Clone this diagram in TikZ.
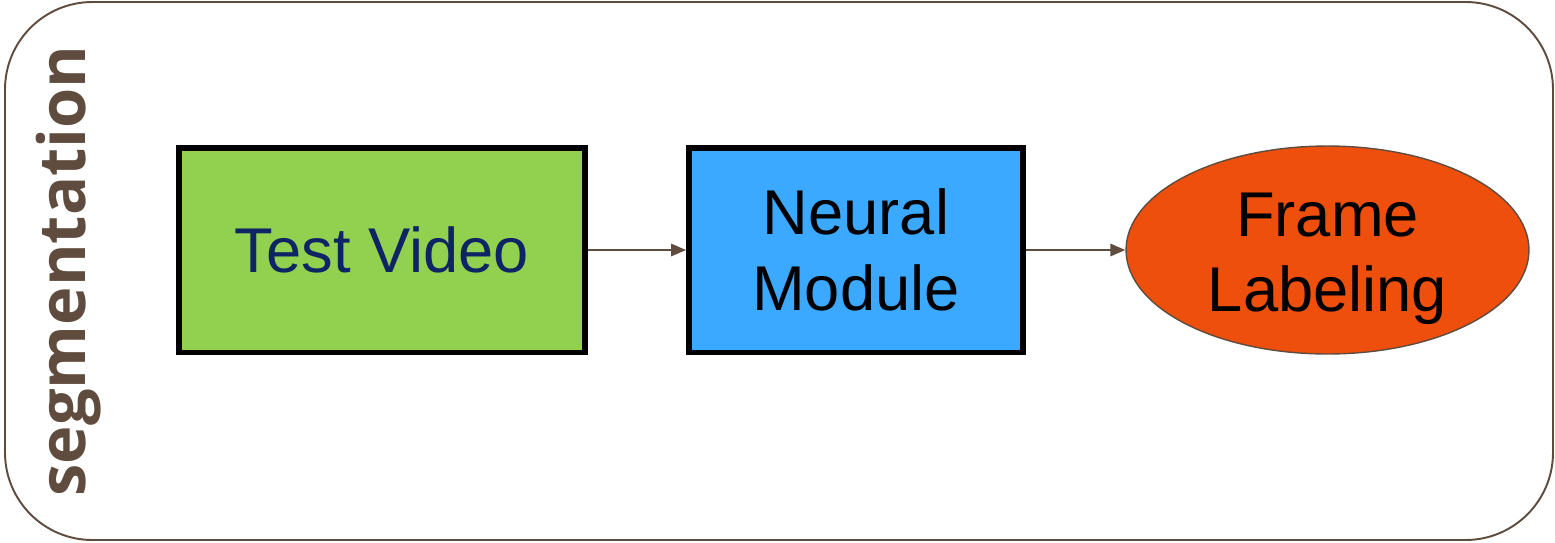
\documentclass[tikz,border=0pt]{standalone}
\usepackage{fontspec}
\setmainfont{Liberation Sans}
\newfontfamily\segfont{Open Sans}
\usetikzlibrary{shapes.geometric,arrows.meta}
\definecolor{framebrown}{HTML}{5F4C3E}
\definecolor{boxgreen}{HTML}{92D050}
\definecolor{boxblue}{HTML}{3BA9FF}
\definecolor{ellorange}{HTML}{EE4F0C}
\definecolor{navytext}{HTML}{0E2464}
\tikzset{
  procbox/.style={draw=black, line width=3.4pt, inner sep=0pt, align=center,
    font=\fontsize{36}{43}\selectfont},
  outbox/.style={ellipse, draw=framebrown, line width=0.8pt, fill=ellorange, inner sep=0pt},
  bigtext/.style={inner sep=0pt, align=center, font=\fontsize{36}{43}\selectfont},
  flow/.style={draw=framebrown, line width=1.2pt, -{Triangle[length=8.5pt,width=7pt]}},
  frame/.style={draw=framebrown, line width=1.1pt, rounded corners=1.75cm},
}
\begin{document}
\begin{tikzpicture}[x=0.02cm, y=-0.02cm]
\useasboundingbox (0,0) rectangle (1555,542);
\draw[frame] (5,2) rectangle (1553,540);
\node[rotate=90, anchor=base, text=framebrown, font=\segfont\bfseries\fontsize{37}{44}\selectfont] (seg) at (85,271) {segmentation};
\node[procbox, fill=boxgreen, text=navytext, minimum width=8.12cm, minimum height=4.1cm] (video) at (382,250) {Test Video};
\node[procbox, fill=boxblue, minimum width=6.68cm, minimum height=4.1cm] (neural) at (856,250) {Neural\\Module};
\node[outbox, minimum width=8.06cm, minimum height=4.16cm] (label) at (1327.5,250) {};
\node[bigtext] (labeltext) at ([yshift=-5pt]label.center) {Frame\\Labeling};
\draw[flow] (video) -- (neural);
\draw[flow] (neural) -- (label);
\end{tikzpicture}
\end{document}
